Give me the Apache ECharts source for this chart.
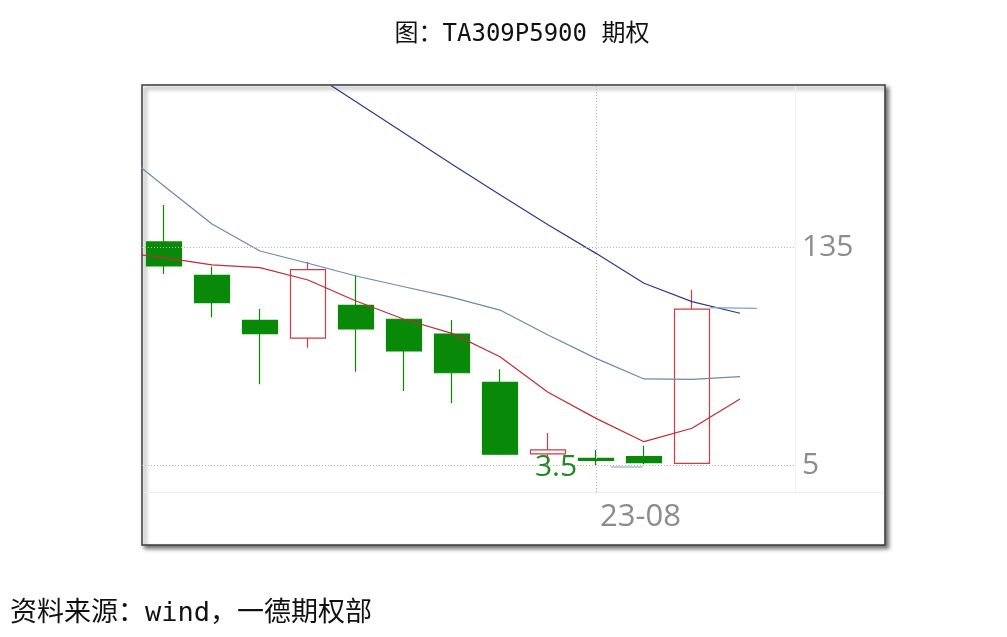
<!DOCTYPE html>
<html><head><meta charset="utf-8">
<script src="https://cdn.jsdelivr.net/npm/echarts@6/dist/echarts.min.js"></script>
<style>html,body{margin:0;padding:0;background:#fff}#c{width:1007px;height:637px}</style>
</head><body><div id="c"></div>
<script>
// ---- data ----
const dayIndex = [1, 2, 3, 4, 5, 6, 7, 8, 9, 10, 11, 12];
const openVals  = [138.0, 118.1, 91.3, 80.7, 100.2, 91.9, 83.1, 54.3, 11.6, 9.0, 10.0, 6.0];
const closeVals = [123.7, 101.8, 83.3, 121.5, 86.1, 73.0, 60.0, 11.4, 14.0, 7.8, 6.4, 98.0];
const lowVals   = [118.9, 93.1, 53.1, 74.9, 60.6, 49.1, 41.8, 11.4, 3.5, 5.0, 5.4, 5.4];
const highVals  = [160.0, 123.3, 98.0, 126.2, 118.3, 91.9, 91.5, 62.1, 24.1, 13.9, 16.5, 109.4];

const maIndex = [0, 1, 2, 3, 4, 5, 6, 7, 8, 9, 10, 11, 12, 13];
const maShort = [132.0, 128.7, 124.3, 122.7, 115.3, 102.8, 91.9, 83.5, 69.6, 48.4, 32.8, 18.9, 26.9, 44.4];
const maMid   = [194.3, 171.4, 148.7, 132.6, 125.3, 117.7, 111.3, 105.0, 97.4, 82.5, 68.6, 56.3, 56.1, 57.7];
const maLong  = [null, null, null, 258.8, 240.2, 221.6, 203.0, 184.4, 166.2, 148.3, 131.2, 113.4, 102.4, 95.5];

const extraX = [10.31, 10.98, null, 12.38, 13.35];
const extraY = [3.8, 3.8, null, 98.8, 98.4];

const yTickValues = [5, 135];
const xTickIndex = [10];
const xTickLabels = ['23-08'];
const lowMarkIndex = 9;
const lowMarkValue = 3.5;

// ---- build ----
const candleData = dayIndex.map((d, i) => [d, openVals[i], closeVals[i], lowVals[i], highVals[i]]);
const pairs = (xs, ys) => xs.map((x, i) => (x == null || ys[i] == null) ? [null, null] : [x, ys[i]]);

const chart = echarts.init(document.getElementById('c'), null, {renderer: 'canvas'});
const numFont = '"Open Sans", "Noto Sans", sans-serif';
const cjkFont = '"DejaVu Sans Mono", "Noto Sans CJK SC", sans-serif';
chart.setOption({
  animation: false,
  backgroundColor: '#fff',
  title: {
    text: '图：TA309P5900 期权',
    left: 517, top: 18, textAlign: 'center',
    textStyle: {fontFamily: cjkFont, fontSize: 24, fontWeight: 'normal', color: '#111'}
  },
  graphic: [
    {type: 'rect', z: -10, shape: {x: 142, y: 85, width: 743, height: 460},
     style: {fill: '#fff', stroke: '#3c3c3c', lineWidth: 1.5, shadowBlur: 4, shadowOffsetX: 3, shadowOffsetY: 3, shadowColor: 'rgba(0,0,0,0.55)'}},
    {type: 'line', z: -5, shape: {x1: 143, y1: 492.5, x2: 884, y2: 492.5}, style: {stroke: '#ededed', lineWidth: 1}},
    {type: 'line', z: -5, shape: {x1: 795.5, y1: 86, x2: 795.5, y2: 492}, style: {stroke: '#f2f2f2', lineWidth: 1}},
    {type: 'text', left: 10, top: 600,
     style: {text: '资料来源：wind，一德期权部', fontFamily: cjkFont, fontSize: 27, fill: '#111'}}
  ],
  grid: {left: 142, top: 86, right: 212, bottom: 145, show: false},
  xAxis: {
    type: 'value', min: 0.5417, max: 14.146,
    axisLine: {show: false}, axisTick: {show: false}, splitLine: {show: false},
    axisLabel: {
      customValues: xTickIndex,
      formatter: v => xTickLabels[xTickIndex.indexOf(v)] || '',
      align: 'left', margin: 10, padding: [0, 0, 0, 4],
      fontFamily: numFont, fontSize: 31, color: '#8c8c8c'
    }
  },
  yAxis: {
    type: 'value', position: 'right', min: -11.1, max: 231.0, scale: true,
    axisLine: {show: false}, axisTick: {show: false}, splitLine: {show: false},
    axisLabel: {
      customValues: yTickValues,
      margin: 7, fontFamily: numFont, fontSize: 30, color: '#8c8c8c'
    }
  },
  series: [
    {
      type: 'candlestick', name: 'K',
      data: candleData,
      encode: {x: 0, y: [1, 2, 3, 4]},
      barWidth: 36,
      itemStyle: {color: '#ffffff', color0: '#088a08', borderColor: '#d23a44', borderColor0: '#088a08', borderWidth: 1.2},
      markLine: {
        silent: true, symbol: 'none',
        label: {show: false},
        lineStyle: {type: [1, 2], color: '#b4b4b4', width: 1},
        data: yTickValues.map(v => ({yAxis: v})).concat(xTickIndex.map(v => ({xAxis: v})))
      },
      markPoint: {
        symbol: 'circle', symbolSize: 1,
        itemStyle: {color: 'rgba(0,0,0,0)'},
        label: {show: true, position: 'inside', offset: [8, 0], formatter: String(lowMarkValue),
                fontFamily: numFont, fontSize: 30, color: '#1f8a1f'},
        data: [{coord: [lowMarkIndex, lowMarkValue], value: lowMarkValue}]
      }
    },
    {type: 'line', name: 'MA短', data: pairs(maIndex, maShort), symbol: 'none', lineStyle: {color: '#c02c36', width: 1.2}, z: 3},
    {type: 'line', name: 'MA中', data: pairs(maIndex, maMid), symbol: 'none', lineStyle: {color: '#6e88ab', width: 1.2}, z: 3},
    {type: 'line', name: 'MA长', data: pairs(maIndex, maLong), symbol: 'none', lineStyle: {color: '#2a3a8e', width: 1.2}, z: 3},
    {type: 'line', name: 'other', data: pairs(extraX, extraY), symbol: 'none', connectNulls: false, lineStyle: {color: '#7fa0c6', width: 1.2}, z: 3}
  ]
});
</script>
</body></html>
